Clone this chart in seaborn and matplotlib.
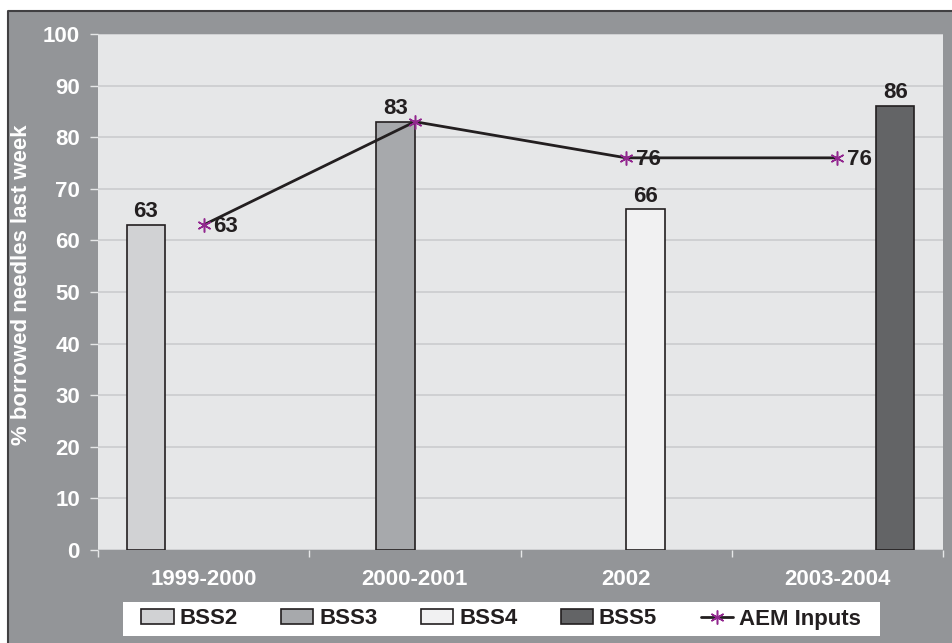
import numpy as np
import pandas as pd
import matplotlib
matplotlib.use("Agg")
import matplotlib.pyplot as plt
from matplotlib.patches import Rectangle, Patch
from matplotlib.lines import Line2D
import seaborn as sns

# Survey periods and results
periods = ["1999-2000", "2000-2001", "2002", "2003-2004"]
surveys = ["BSS2", "BSS3", "BSS4", "BSS5"]
survey_values = [63, 83, 66, 86]          # one survey per period
aem_label = "AEM Inputs"
aem_values = [63, 83, 76, 76]
aem_show_value = [True, False, True, True]  # 83 is already printed on the bar
y_ticks = list(range(0, 101, 10))

bar_colors = ["#d1d2d4", "#a7a9ac", "#f1f1f2", "#636466"]
panel_gray = "#939598"
plot_face = "#e6e7e8"
ink = "#231f20"
star_color = "#92278f"
FS = 16

sns.set_theme(style="white")
plt.rcParams["font.family"] = ["Liberation Sans", "DejaVu Sans"]
plt.rcParams["font.weight"] = "bold"

W, H, DPI = 953, 643, 100
fig = plt.figure(figsize=(W / DPI, H / DPI), dpi=DPI, facecolor="white")

# gray chart panel with a dark top/left edge
fig.patches.append(Rectangle((8 / W, 0), 1 - 8 / W, 1 - 11 / H, transform=fig.transFigure,
                             facecolor=panel_gray, edgecolor="none", zorder=-10))
fig.lines.append(Line2D([8 / W, 8 / W, 1], [0, 1 - 11 / H, 1 - 11 / H],
                        transform=fig.transFigure, color="#414042", lw=1.5, zorder=-9))
# white legend strip
fig.patches.append(Rectangle((123 / W, 1 - 636 / H), (880 - 123) / W, 34 / H,
                             transform=fig.transFigure, facecolor="white",
                             edgecolor="none", zorder=-8))

ax = fig.add_axes([98 / W, 1 - 550 / H, (943 - 98) / W, (550 - 34) / H])
ax.set_facecolor(plot_face)

df = pd.DataFrame({"period": periods, "survey": surveys, "pct": survey_values})
sns.barplot(data=df, x="period", y="pct", hue="survey", order=periods,
            hue_order=surveys, palette=bar_colors, width=0.73, dodge=True,
            edgecolor=ink, linewidth=1.2, saturation=1, legend=False, ax=ax, zorder=3)

for cont in ax.containers:
    ax.bar_label(cont, fmt="%d", padding=2, fontsize=FS, fontweight="bold", color=ink)

pos = np.arange(len(periods))
sns.lineplot(x=pos, y=aem_values, color=ink, lw=2, ax=ax, zorder=4, legend=False)
ax.plot(pos, aem_values, ls="none", marker=(6, 2, 0), ms=10, mew=1.1,
        color=star_color, zorder=5)
for x, v, show in zip(pos, aem_values, aem_show_value):
    if show:
        ax.annotate(f"{v}", (x, v), xytext=(7, -1), textcoords="offset points",
                    ha="left", va="center", fontsize=FS, fontweight="bold",
                    color=ink, zorder=6)

ax.set_xlim(-0.5, len(periods) - 0.5)
ax.set_ylim(0, 100)
ax.set_yticks(y_ticks)
ax.yaxis.grid(True, color="#cbccce", lw=1.2)
ax.set_axisbelow(True)
for s in ax.spines.values():
    s.set_visible(False)

ax.tick_params(axis="y", which="major", direction="out", length=6, width=1,
               color="#e6e7e8", pad=7, labelsize=FS, labelcolor="white", left=True)
ax.set_xticks(pos)
ax.set_xticklabels(periods)
ax.set_xticks(np.arange(-0.5, len(periods)), minor=True)
ax.tick_params(axis="x", which="major", length=0, pad=14, labelsize=FS, labelcolor="white")
ax.tick_params(axis="x", which="minor", direction="out", length=5, width=1,
               color="#e6e7e8", bottom=True)
for lab in ax.get_xticklabels() + ax.get_yticklabels():
    lab.set_fontweight("bold")

ax.set_xlabel("")
ax.set_ylabel("% borrowed needles last week", fontsize=FS, fontweight="bold", color="white")
ax.yaxis.set_label_coords(-0.078, 0.514)

handles = [Patch(facecolor=c, edgecolor=ink, lw=1.2, label=s) for c, s in zip(bar_colors, surveys)]
handles.append(Line2D([], [], color=ink, lw=2, marker=(6, 2, 0), ms=10, mew=1.1,
                      mfc=star_color, mec=star_color, label=aem_label))
leg = fig.legend(handles=handles, loc="center", bbox_to_anchor=(501 / W, 1 - 619 / H),
                 ncol=5, frameon=False, handlelength=1.45, handleheight=0.63,
                 handletextpad=0.27, columnspacing=1.95, borderpad=0.1,
                 prop={"weight": "bold", "size": FS})
for t in leg.get_texts():
    t.set_color(ink)

fig.savefig("out.png", dpi=DPI, facecolor=fig.get_facecolor())
